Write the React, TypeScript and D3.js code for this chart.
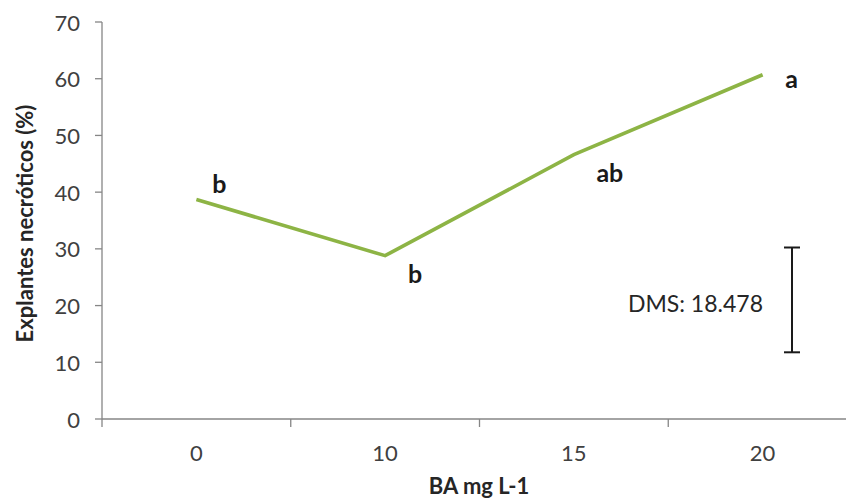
import React from "react";
import * as d3 from "d3";

// BA concentration (mg L-1) and share of necrotic explants (%)
const categories = ["0", "10", "15", "20"];
const necrotic = [38.7, 28.8, 46.6, 60.7];
const letters = ["b", "b", "ab", "a"];
const yTicks = [0, 10, 20, 30, 40, 50, 60, 70];
const dms = 18.478;
const dmsCenter = 21.0;

// label placement relative to each point (px)
const letterOffsets: [number, number][] = [
  [23, -17],
  [30, 17],
  [36, 17],
  [29, 3],
];

const W = 846;
const H = 501;
const left = 102;
const right = 857;
const top = 22;
const bottom = 419;

export default function App() {
  const x = d3.scaleBand<string>().domain(categories).range([left, right]).padding(0);
  const y = d3.scaleLinear().domain([0, 70]).range([bottom, top]);
  const cx = (c: string) => (x(c) ?? 0) + x.bandwidth() / 2;

  const line = d3
    .line<number>()
    .x((_, i) => cx(categories[i]))
    .y((v) => y(v));

  const boundaries = [...categories.map((c) => x(c) ?? 0), right];
  const axisColor = "#868686";
  const font = "Lato, 'Open Sans', sans-serif";

  const barX = 792;
  const barTop = y(dmsCenter + dms / 2);
  const barBottom = y(dmsCenter - dms / 2);

  return (
    <svg
      width={W}
      height={H}
      style={{ position: "absolute", left: 0, top: 0, background: "#fff" }}
      fontFamily={font}
    >
      {/* y axis */}
      <line x1={left} x2={left} y1={top} y2={bottom} stroke={axisColor} strokeWidth={1.3} />
      {yTicks.map((t) => (
        <g key={t}>
          <line x1={left - 7} x2={left} y1={y(t)} y2={y(t)} stroke={axisColor} strokeWidth={1.3} />
          <text
            x={80}
            y={y(t)}
            textAnchor="end"
            dominantBaseline="central"
            fontSize={22}
            fill="#404040"
          >
            {t}
          </text>
        </g>
      ))}

      {/* x axis */}
      <line x1={left} x2={right} y1={bottom} y2={bottom} stroke={axisColor} strokeWidth={1.3} />
      {boundaries.map((b, i) => (
        <line key={i} x1={b} x2={b} y1={bottom} y2={bottom + 8} stroke={axisColor} strokeWidth={1.3} />
      ))}
      {categories.map((c) => (
        <text
          key={c}
          x={cx(c)}
          y={452}
          textAnchor="middle"
          dominantBaseline="central"
          fontSize={22}
          fill="#404040"
        >
          {c}
        </text>
      ))}

      {/* axis titles */}
      <text
        x={479}
        y={494}
        textAnchor="middle"
        fontSize={22}
        fontWeight="bold"
        fill="#262626"
      >
        BA mg L-1
      </text>
      <text
        transform={`translate(24, ${(top + bottom) / 2 + 3}) rotate(-90)`}
        textAnchor="middle"
        dominantBaseline="central"
        fontSize={22}
        fontWeight="bold"
        fill="#262626"
      >
        Explantes necróticos (%)
      </text>

      {/* series line */}
      <path d={line(necrotic) ?? ""} fill="none" stroke="#8DB445" strokeWidth={3.6} strokeLinejoin="miter" />

      {/* significance letters */}
      {necrotic.map((v, i) => (
        <text
          key={i}
          x={cx(categories[i]) + letterOffsets[i][0]}
          y={y(v) + letterOffsets[i][1]}
          textAnchor="middle"
          dominantBaseline="central"
          fontSize={25}
          fontWeight="bold"
          fill="#1a1a1a"
        >
          {letters[i]}
        </text>
      ))}

      {/* DMS bar */}
      <line x1={barX} x2={barX} y1={barTop} y2={barBottom} stroke="#1a1a1a" strokeWidth={2} />
      <line x1={barX - 8} x2={barX + 8} y1={barTop} y2={barTop} stroke="#1a1a1a" strokeWidth={2} />
      <line x1={barX - 8} x2={barX + 8} y1={barBottom} y2={barBottom} stroke="#1a1a1a" strokeWidth={2} />
      <text
        x={763}
        y={303}
        textAnchor="end"
        dominantBaseline="central"
        fontSize={23}
        fill="#262626"
      >
        {`DMS: ${dms}`}
      </text>
    </svg>
  );
}
